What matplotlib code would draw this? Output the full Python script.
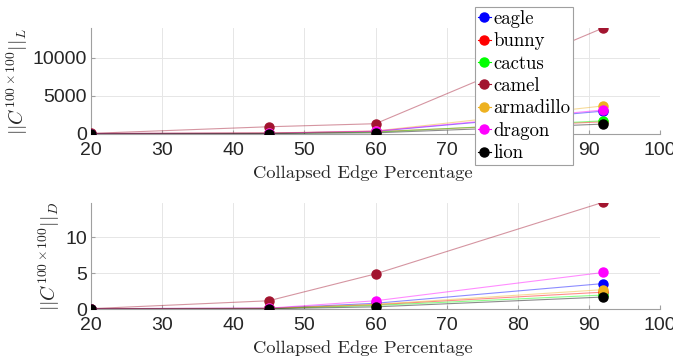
import numpy as np
import matplotlib.pyplot as plt

plt.rcParams['mathtext.fontset'] = 'cm'
plt.rcParams['font.family'] = ['Liberation Sans', 'DejaVu Sans']

pct = [20, 45, 60, 92]
names = ["eagle", "bunny", "cactus", "camel", "armadillo", "dragon", "lion"]
colors = ["#0000FF", "#FF0000", "#00FF00", "#A2142F", "#EDB120", "#FF00FF", "#000000"]

# norm L per mesh
norm_L = {
    "eagle":     [60, 100, 350, 3000],
    "bunny":     [60, 120, 300, 1600],
    "cactus":    [50, 80, 250, 1730],
    "camel":     [80, 950, 1350, 13900],
    "armadillo": [60, 130, 400, 3680],
    "dragon":    [60, 110, 380, 3150],
    "lion":      [40, 60, 150, 1300],
}

# norm D per mesh
norm_D = {
    "eagle":     [0.05, 0.10, 0.80, 3.55],
    "bunny":     [0.05, 0.08, 0.60, 2.35],
    "cactus":    [0.05, 0.06, 0.50, 1.95],
    "camel":     [0.05, 1.15, 4.90, 14.9],
    "armadillo": [0.05, 0.10, 0.65, 2.70],
    "dragon":    [0.05, 0.12, 1.15, 5.10],
    "lion":      [0.02, 0.03, 0.30, 1.67],
}

fig = plt.figure(figsize=(6.73, 3.58), dpi=100)
ax1 = fig.add_axes([91/673, 1 - 134/358, 569/673, 106/358])
ax2 = fig.add_axes([91/673, 1 - 309/358, 569/673, 106/358])

def dibujar(ax, datos, ymax, yticks, ylabel):
    for n, c in zip(names, colors):
        ax.plot(pct, datos[n], color=c, lw=0.8, alpha=0.45, zorder=2)
        ax.plot(pct, datos[n], 'o', color=c, ms=6.5, zorder=3)
    ax.set_xlim(20, 100)
    ax.set_ylim(0, ymax)
    ax.set_xticks([20, 30, 40, 50, 60, 70, 80, 90, 100])
    ax.set_yticks(yticks)
    ax.grid(True, color='#e6e6e6', lw=0.7)
    ax.set_axisbelow(True)
    for s in ['top', 'right']:
        ax.spines[s].set_visible(False)
    for s in ['left', 'bottom']:
        ax.spines[s].set_color('#a0a0a0')
        ax.spines[s].set_linewidth(0.8)
    ax.tick_params(direction='in', length=3, color='#a0a0a0',
                   labelsize=14, labelcolor='#262626')
    ax.tick_params(axis='x', pad=6)
    ax.tick_params(axis='y', pad=3)
    ax.set_xlabel('Collapsed Edge Percentage', family='cmr10', fontsize=13.4,
                  color='#262626')
    ax.xaxis.set_label_coords(0.478, -0.292)
    ax.set_ylabel(ylabel, fontsize=14, color='#262626', labelpad=2)

dibujar(ax1, norm_L, 13900, [0, 5000, 10000], r'$||C^{100\times 100}||_L$')
dibujar(ax2, norm_D, 14.8, [0, 5, 10], r'$||C^{100\times 100}||_D$')

handles = [plt.Line2D([], [], color=c, lw=0.8, marker='o', ms=6.5,
                      markerfacecolor=c, markeredgecolor=c) for c in colors]
leg = fig.legend(handles, names,
                 loc='upper left', bbox_to_anchor=(475/673, 1 - 7/358),
                 prop={'family': 'cmr10', 'size': 13.5}, frameon=True,
                 fancybox=False, framealpha=1,
                 handlelength=0.7, handletextpad=0.12, borderpad=0.15,
                 labelspacing=0.24, borderaxespad=0)
leg.get_frame().set_edgecolor('#a0a0a0')
leg.get_frame().set_linewidth(0.8)
leg.set_zorder(10)

fig.savefig("out.png", dpi=100)
